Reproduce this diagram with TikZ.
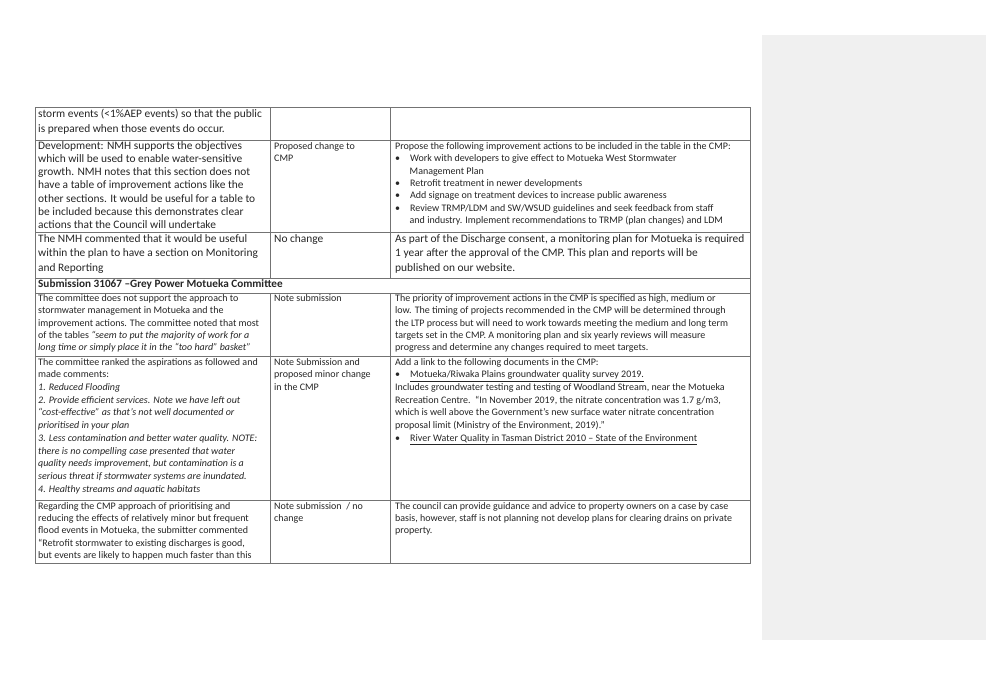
\documentclass[tikz,border=0pt]{standalone}
\usepackage{fontspec}
\setmainfont{Carlito}
\begin{document}
\begin{tikzpicture}[x=1pt,y=-1pt,
  big/.style={anchor=north west,align=left,inner sep=0pt,font=\fontsize{11.4}{13.1}\selectfont,text=black!85},
  small/.style={anchor=north west,align=left,inner sep=0pt,font=\fontsize{10}{12.3}\selectfont,text=black!85},
  grid/.style={draw=black!55,line width=0.7pt}]
\useasboundingbox (0,0) rectangle (986,675);
\fill[white] (0,0) rectangle (986,675);
\fill[black!6] (762,35) rectangle (986,640);
% grid
\draw[grid] (35,107) rectangle (750,563);
\foreach \y in {140,232,278,293,356,500} \draw[grid] (35,\y) -- (750,\y);
\draw[grid] (270,107) -- (270,278);
\draw[grid] (270,293) -- (270,563);
\draw[grid] (390,107) -- (390,278);
\draw[grid] (390,293) -- (390,563);
% row 1
\node[big,font=\fontsize{11.4}{15}\selectfont] (a1) at (38,109) {storm events (<1\%AEP events) so that the public\\is prepared when those events do occur.};
% row 2
\node[big] (a2) at (38,141.5) {Development: NMH supports the objectives\\which will be used to enable water-sensitive\\growth. NMH notes that this section does not\\have a table of improvement actions like the\\other sections. It would be useful for a table to\\be included because this demonstrates clear\\actions that the Council will undertake};
\node[small] (b2) at (274,142.5) {Proposed change to\\CMP};
\node[small] (c2) at (395,142.5) {Propose the following improvement actions to be included in the table in the CMP:\\
•\hspace{10pt}Work with developers to give effect to Motueka West Stormwater\\
\hspace{14.5pt}Management Plan\\
•\hspace{10pt}Retrofit treatment in newer developments\\
•\hspace{10pt}Add signage on treatment devices to increase public awareness\\
•\hspace{10pt}Review TRMP/LDM and SW/WSUD guidelines and seek feedback from staff\\
\hspace{14.5pt}and industry. Implement recommendations to TRMP (plan changes) and LDM};
% row 3
\node[big,font=\fontsize{11.4}{14.8}\selectfont] (a3) at (38,234) {The NMH commented that it would be useful\\within the plan to have a section on Monitoring\\and Reporting};
\node[big] (b3) at (274,234) {No change};
\node[big,font=\fontsize{11.4}{14.8}\selectfont] (c3) at (395,234) {As part of the Discharge consent, a monitoring plan for Motueka is required\\1 year after the approval of the CMP. This plan and reports will be\\published on our website.};
% header
\node[big,font=\fontsize{11.2}{13}\selectfont\bfseries] (h) at (38,279.5) {Submission 31067 –Grey Power Motueka Committee};
% row 5
\node[small] (a5) at (38,294.5) {The committee does not support the approach to\\stormwater management in Motueka and the\\improvement actions. The committee noted that most\\of the tables \textit{“seem to put the majority of work for a}\\\textit{long time or simply place it in the “too hard” basket”}};
\node[small] (b5) at (274,294.5) {Note submission};
\node[small] (c5) at (395,294.5) {The priority of improvement actions in the CMP is specified as high, medium or\\low. The timing of projects recommended in the CMP will be determined through\\the LTP process but will need to work towards meeting the medium and long term\\targets set in the CMP. A monitoring plan and six yearly reviews will measure\\progress and determine any changes required to meet targets.};
% row 6
\node[small,font=\fontsize{10}{12.7}\selectfont] (a6) at (38,358) {The committee ranked the aspirations as followed and\\made comments:\\\textit{1. Reduced Flooding}\\\textit{2. Provide efficient services. Note we have left out}\\\textit{“cost-effective” as that’s not well documented or}\\\textit{prioritised in your plan}\\\textit{3. Less contamination and better water quality. NOTE:}\\\textit{there is no compelling case presented that water}\\\textit{quality needs improvement, but contamination is a}\\\textit{serious threat if stormwater systems are inundated.}\\\textit{4. Healthy streams and aquatic habitats}};
\node[small,font=\fontsize{10}{12.7}\selectfont] (b6) at (274,358) {Note Submission and\\proposed minor change\\in the CMP};
\node[small,font=\fontsize{10}{12.7}\selectfont] (c6) at (395,358) {Add a link to the following documents in the CMP:\\
•\hspace{10pt}\underline{Motueka/Riwaka Plains groundwater quality survey 2019.}\\
Includes groundwater testing and testing of Woodland Stream, near the Motueka\\
Recreation Centre.\ \ “In November 2019, the nitrate concentration was 1.7 g/m3,\\
which is well above the Government’s new surface water nitrate concentration\\
proposal limit (Ministry of the Environment, 2019).”\\
•\hspace{10pt}\underline{River Water Quality in Tasman District 2010 – State of the Environment}};
% row 7
\node[small] (a7) at (38,502) {Regarding the CMP approach of prioritising and\\reducing the effects of relatively minor but frequent\\flood events in Motueka, the submitter commented\\“Retrofit stormwater to existing discharges is good,\\but events are likely to happen much faster than this};
\node[small] (b7) at (274,502) {Note submission\ \ / no\\change};
\node[small] (c7) at (395,502) {The council can provide guidance and advice to property owners on a case by case\\basis, however, staff is not planning not develop plans for clearing drains on private\\property.};
\end{tikzpicture}
\end{document}
